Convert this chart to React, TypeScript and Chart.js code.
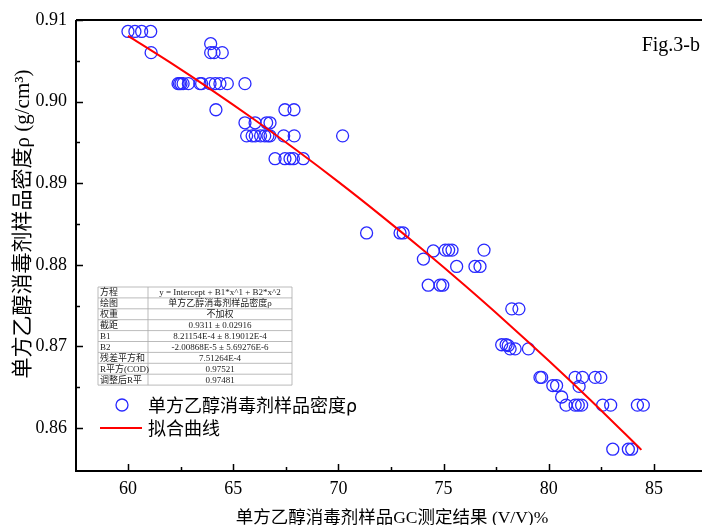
import React, { useEffect, useRef } from 'react';
import { Chart, registerables } from 'chart.js';

Chart.register(...registerables);

// ---- data ----
const densityX = [
  60.0, 60.33, 60.65, 61.08, 61.1,
  63.93, 63.93, 64.09, 64.48,
  62.38, 62.45, 62.52, 62.62, 62.87, 63.42, 63.5, 63.9, 64.15, 64.37, 64.72, 65.56,
  64.18, 67.46, 67.89,
  65.56, 66.04, 66.59, 66.75,
  65.64, 65.9, 66.05, 66.3, 66.5, 66.65, 66.75, 67.4, 67.9, 70.2,
  66.99, 67.46, 67.7, 67.86, 68.33,
  71.34, 72.93, 73.08,
  74.51, 75.08, 75.24, 75.4, 76.92,
  74.04,
  75.62, 76.49, 76.73,
  74.27, 74.83, 74.96,
  78.24, 78.58,
  77.76, 77.97, 78.07,
  78.16, 78.4, 79.03,
  79.58, 79.66, 81.25, 81.6, 82.2, 82.47,
  80.19, 80.37, 81.44,
  80.61,
  80.82, 81.25, 81.4, 81.56, 82.56, 82.94, 84.21, 84.49,
  83.04, 83.78, 83.94,
];
const densityY = [
  0.9086, 0.9086, 0.9086, 0.9086, 0.906,
  0.9071, 0.906, 0.906, 0.906,
  0.9022, 0.9022, 0.9022, 0.9022, 0.9022, 0.9022, 0.9022, 0.9022, 0.9022, 0.9022, 0.9022, 0.9022,
  0.899, 0.899, 0.899,
  0.8974, 0.8974, 0.8974, 0.8974,
  0.8958, 0.8958, 0.8958, 0.8958, 0.8958, 0.8958, 0.8958, 0.8958, 0.8958, 0.8958,
  0.893, 0.893, 0.893, 0.893, 0.893,
  0.8839, 0.8839, 0.8839,
  0.8817, 0.8818, 0.8818, 0.8818, 0.8818,
  0.8807,
  0.8798, 0.8798, 0.8798,
  0.8775, 0.8775, 0.8775,
  0.8746, 0.8746,
  0.8702, 0.8702, 0.8701,
  0.8697, 0.8697, 0.8697,
  0.8662, 0.8662, 0.8662, 0.8662, 0.8662, 0.8662,
  0.8652, 0.8652, 0.8651,
  0.8638,
  0.8628, 0.8628, 0.8628, 0.8628, 0.8628, 0.8628, 0.8628, 0.8628,
  0.8574, 0.8574, 0.8574,
];
const fitX = [60, 62, 64, 66, 68, 70, 72, 74, 76, 78, 80, 82, 84.4];
const fitY = [0.90806, 0.9048, 0.90138, 0.8978, 0.89406, 0.89016, 0.88609, 0.88187, 0.87749, 0.87294, 0.86824, 0.86337, 0.85732];

const xTicks = [60, 65, 70, 75, 80, 85];
const xMinorTicks = [62.5, 67.5, 72.5, 77.5, 82.5, 87.5];
const yTicks = [0.86, 0.87, 0.88, 0.89, 0.9, 0.91];
const yMinorTicks = [0.865, 0.875, 0.885, 0.895, 0.905];

const seriesName = '单方乙醇消毒剂样品密度ρ';
const fitName = '拟合曲线';
const xTitle = '单方乙醇消毒剂样品GC测定结果 (V/V)%';
const yTitle = '单方乙醇消毒剂样品密度ρ (g/cm³)';
const figLabel = 'Fig.3-b';

const tableLabels = ['方程', '绘图', '权重', '截距', 'B1', 'B2', '残差平方和', 'R平方(COD)', '调整后R平'];
const tableValues = [
  'y = Intercept + B1*x^1 + B2*x^2',
  '单方乙醇消毒剂样品密度ρ',
  '不加权',
  '0.9311 ± 0.02916',
  '8.21154E-4 ± 8.19012E-4',
  '-2.00868E-5 ± 5.69276E-6',
  '7.51264E-4',
  '0.97521',
  '0.97481',
];

const BLUE = 'rgb(40,40,255)';
const RED = 'rgb(255,0,0)';
const SERIF = '"Liberation Serif", "Noto Sans CJK SC"';

const decorPlugin = {
  id: 'decor',
  afterDatasetsDraw(chart: any) {
    const { ctx, chartArea, scales } = chart;
    const { left, right, top, bottom } = chartArea;
    const x = scales.x;
    const y = scales.y;
    ctx.save();
    // frame
    ctx.strokeStyle = '#000';
    ctx.lineWidth = 2;
    ctx.beginPath();
    ctx.moveTo(left, top);
    ctx.lineTo(left, bottom);
    ctx.lineTo(right, bottom);
    ctx.moveTo(left, top);
    ctx.lineTo(right, top);
    ctx.stroke();
    // ticks (inward)
    ctx.lineWidth = 1.5;
    ctx.beginPath();
    xTicks.forEach((v) => {
      const p = Math.round(x.getPixelForValue(v)) + 0.5;
      ctx.moveTo(p, bottom);
      ctx.lineTo(p, bottom - 7);
    });
    xMinorTicks.forEach((v) => {
      const p = Math.round(x.getPixelForValue(v)) + 0.5;
      if (p < right) {
        ctx.moveTo(p, bottom);
        ctx.lineTo(p, bottom - 4);
      }
    });
    yTicks.forEach((v) => {
      const p = Math.round(y.getPixelForValue(v)) + 0.5;
      ctx.moveTo(left, p);
      ctx.lineTo(left + 7, p);
    });
    yMinorTicks.forEach((v) => {
      const p = Math.round(y.getPixelForValue(v)) + 0.5;
      ctx.moveTo(left, p);
      ctx.lineTo(left + 4, p);
    });
    ctx.stroke();

    // axis titles
    ctx.fillStyle = '#000';
    ctx.font = `17.5px ${SERIF}`;
    ctx.textAlign = 'center';
    ctx.textBaseline = 'middle';
    ctx.fillText(xTitle, 392, 518);
    ctx.save();
    ctx.translate(23, 224);
    ctx.rotate(-Math.PI / 2);
    ctx.font = `21px ${SERIF}`;
    ctx.fillText(yTitle, 0, 0);
    ctx.restore();

    // figure label
    ctx.font = `20px ${SERIF}`;
    ctx.textAlign = 'right';
    ctx.fillText(figLabel, 700, 46);

    // parameter table
    const tL = 98, tM = 148, tR = 292, tT = 287, rh = 10.9;
    const n = tableLabels.length;
    ctx.strokeStyle = '#aaaaaa';
    ctx.lineWidth = 0.8;
    ctx.beginPath();
    ctx.rect(tL, tT, tR - tL, rh * n);
    for (let i = 1; i < n; i++) {
      ctx.moveTo(tL, tT + rh * i);
      ctx.lineTo(tR, tT + rh * i);
    }
    ctx.moveTo(tM, tT);
    ctx.lineTo(tM, tT + rh * n);
    ctx.stroke();
    ctx.fillStyle = '#222';
    ctx.font = `9px ${SERIF}`;
    for (let i = 0; i < n; i++) {
      const cy = tT + rh * i + rh / 2 + 0.5;
      ctx.textAlign = 'left';
      ctx.fillText(tableLabels[i], tL + 2, cy);
      ctx.textAlign = 'center';
      ctx.fillText(tableValues[i], (tM + tR) / 2, cy);
    }

    // legend
    ctx.strokeStyle = BLUE;
    ctx.lineWidth = 1.3;
    ctx.beginPath();
    ctx.arc(122, 405, 6, 0, Math.PI * 2);
    ctx.stroke();
    ctx.strokeStyle = RED;
    ctx.lineWidth = 2;
    ctx.beginPath();
    ctx.moveTo(100, 428);
    ctx.lineTo(142, 428);
    ctx.stroke();
    ctx.fillStyle = '#000';
    ctx.font = `18px "Noto Sans CJK SC", ${SERIF}`;
    ctx.textAlign = 'left';
    ctx.fillText(seriesName, 148, 405);
    ctx.fillText(fitName, 148, 428);
    ctx.restore();
  },
};

export default function App() {
  const ref = useRef<HTMLCanvasElement | null>(null);
  useEffect(() => {
    if (!ref.current) return;
    const chart = new Chart(ref.current, {
      type: 'scatter',
      data: {
        datasets: [
          {
            label: seriesName,
            data: densityX.map((v, i) => ({ x: v, y: densityY[i] })),
            pointStyle: 'circle',
            pointRadius: 6,
            pointBorderWidth: 1.3,
            pointBorderColor: BLUE,
            pointBackgroundColor: 'rgba(0,0,0,0)',
            showLine: false,
            order: 2,
          } as any,
          {
            label: fitName,
            type: 'line',
            data: fitX.map((v, i) => ({ x: v, y: fitY[i] })),
            borderColor: RED,
            borderWidth: 2,
            pointRadius: 0,
            fill: false,
            tension: 0.3,
            order: 1,
          } as any,
        ],
      },
      options: {
        animation: false,
        responsive: false,
        maintainAspectRatio: false,
        layout: { autoPadding: false, padding: { left: 0, right: 0, top: 20, bottom: 0 } },
        plugins: { legend: { display: false }, tooltip: { enabled: false } },
        scales: {
          x: {
            type: 'linear',
            min: 57.53,
            max: 87.28,
            afterBuildTicks: (s: any) => {
              s.ticks = xTicks.map((v) => ({ value: v }));
            },
            afterFit: (s: any) => {
              s.height = 54;
            },
            grid: { display: false, drawTicks: false },
            border: { display: false },
            ticks: {
              color: '#000',
              padding: 7,
              maxRotation: 0,
              autoSkip: false,
              font: { family: 'Liberation Serif', size: 18 },
            },
          },
          y: {
            type: 'linear',
            min: 0.85473,
            max: 0.91,
            afterBuildTicks: (s: any) => {
              s.ticks = yTicks.map((v) => ({ value: v }));
            },
            afterFit: (s: any) => {
              s.width = 76;
            },
            grid: { display: false, drawTicks: false },
            border: { display: false },
            ticks: {
              color: '#000',
              padding: 9,
              autoSkip: false,
              font: { family: 'Liberation Serif', size: 18 },
              callback: (v: any) => Number(v).toFixed(2),
            },
          },
        },
      },
      plugins: [decorPlugin],
    });
    return () => chart.destroy();
  }, []);
  return (
    <div style={{ position: 'fixed', left: 0, top: 0, width: 702, height: 525, background: '#fff' }}>
      <canvas ref={ref} width={702} height={525} style={{ display: 'block' }} />
    </div>
  );
}
